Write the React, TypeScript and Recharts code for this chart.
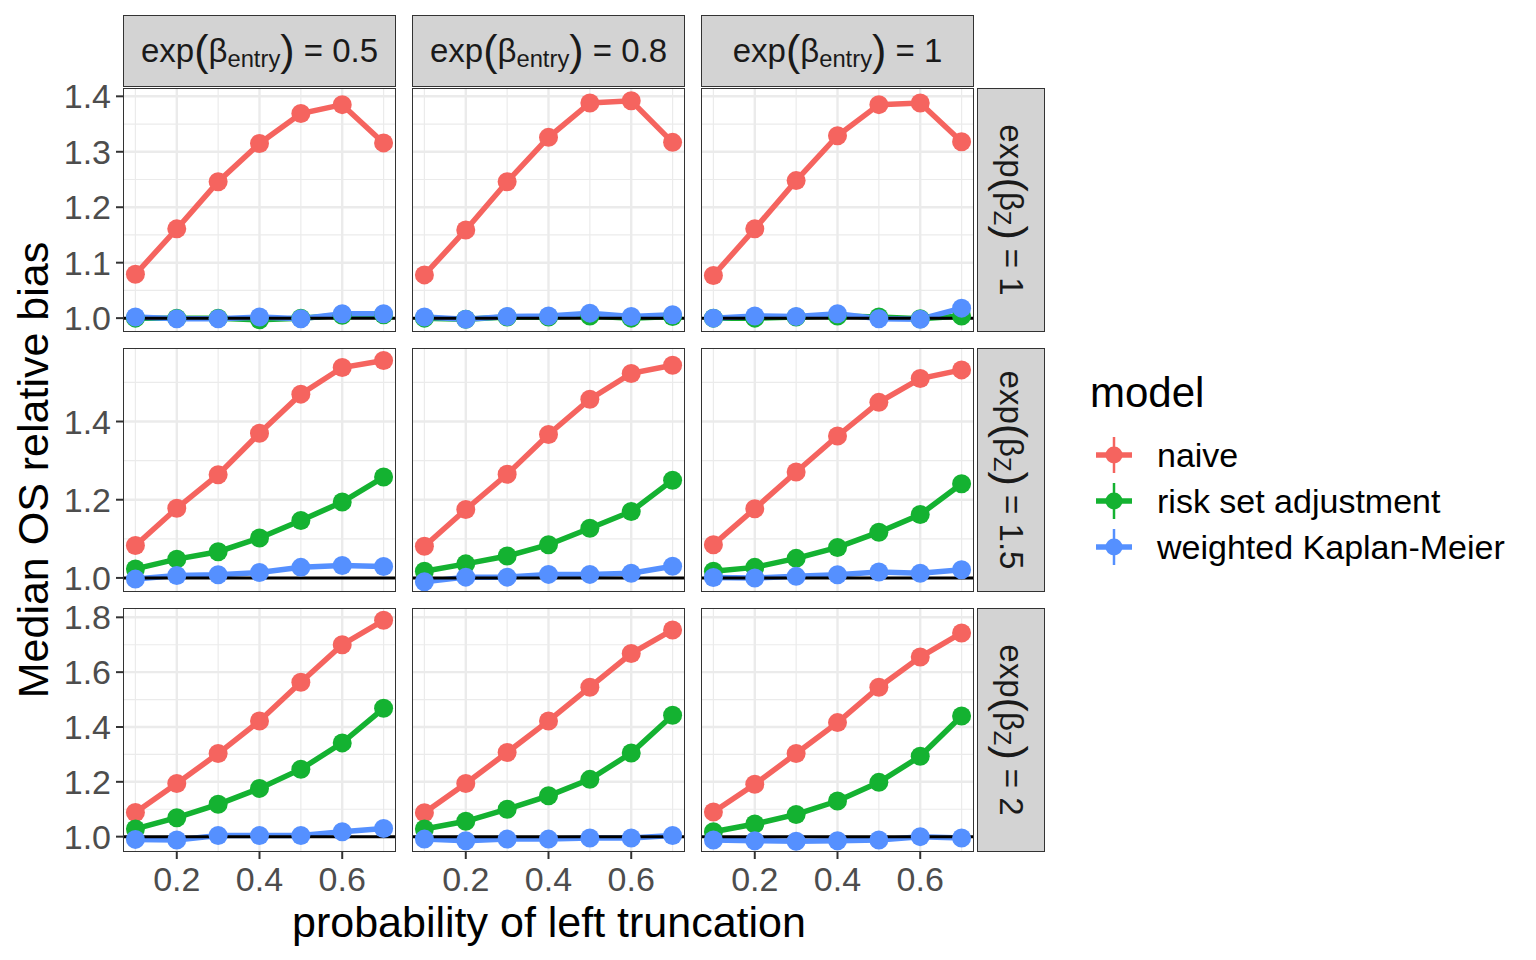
import React from "react";
import { LineChart, Line, XAxis, YAxis, ReferenceLine } from "recharts";

const probs = [0.1, 0.2, 0.3, 0.4, 0.5, 0.6, 0.7];
const entryLabels = ["0.5", "0.8", "1"];
const zLabels = ["1", "1.5", "2"];
const models = ["naive", "risk set adjustment", "weighted Kaplan-Meier"];
const modelColors = ["#F5645F", "#14B231", "#5590FF"];

// one array per column: exp(beta_entry) = 0.5, 0.8, 1
const naiveZ1 = [
  [1.079, 1.161, 1.246, 1.315, 1.369, 1.385, 1.316],
  [1.078, 1.159, 1.246, 1.326, 1.388, 1.392, 1.317],
  [1.077, 1.161, 1.248, 1.329, 1.385, 1.388, 1.318],
];
const riskZ1 = [
  [1.0, 1.0, 1.0, 0.997, 1.0, 1.005, 1.006],
  [1.0, 0.998, 1.002, 1.002, 1.004, 1.0, 1.003],
  [1.0, 1.0, 1.002, 1.004, 1.002, 0.999, 1.004],
];
const kmZ1 = [
  [1.002, 0.999, 0.999, 1.002, 0.999, 1.008, 1.008],
  [1.002, 0.998, 1.003, 1.004, 1.009, 1.003, 1.006],
  [1.0, 1.004, 1.003, 1.008, 0.999, 0.998, 1.018],
];

const naiveZ15 = [
  [1.083, 1.178, 1.264, 1.37, 1.47, 1.538, 1.556],
  [1.081, 1.175, 1.265, 1.367, 1.457, 1.523, 1.544],
  [1.085, 1.177, 1.271, 1.363, 1.449, 1.51, 1.532],
];
const riskZ15 = [
  [1.023, 1.048, 1.067, 1.102, 1.147, 1.194, 1.258],
  [1.017, 1.036, 1.056, 1.085, 1.127, 1.17, 1.25],
  [1.017, 1.027, 1.05, 1.078, 1.117, 1.162, 1.241],
];
const kmZ15 = [
  [0.997, 1.006, 1.008, 1.014, 1.027, 1.032, 1.029],
  [0.99, 1.002, 1.002, 1.009, 1.009, 1.012, 1.03],
  [1.001, 1.0, 1.004, 1.008, 1.015, 1.012, 1.021],
];

const naiveZ2 = [
  [1.088, 1.194, 1.303, 1.422, 1.563, 1.7, 1.789],
  [1.087, 1.194, 1.307, 1.422, 1.545, 1.668, 1.754],
  [1.09, 1.191, 1.303, 1.416, 1.545, 1.655, 1.743],
];
const riskZ2 = [
  [1.028, 1.069, 1.118, 1.176, 1.246, 1.342, 1.468],
  [1.028, 1.056, 1.1, 1.149, 1.209, 1.305, 1.443],
  [1.018, 1.046, 1.081, 1.13, 1.198, 1.293, 1.44],
];
const kmZ2 = [
  [0.99, 0.988, 1.004, 1.004, 1.004, 1.018, 1.03],
  [0.991, 0.985, 0.991, 0.991, 0.995, 0.995, 1.004],
  [0.988, 0.985, 0.983, 0.985, 0.988, 1.0, 0.995],
];

const naiveRows = [naiveZ1, naiveZ15, naiveZ2];
const riskRows = [riskZ1, riskZ15, riskZ2];
const kmRows = [kmZ1, kmZ15, kmZ2];

const xTicks = [0.2, 0.4, 0.6];
const xMinor = [0.1, 0.3, 0.5, 0.7];
const yTicks = [
  [1.0, 1.1, 1.2, 1.3, 1.4],
  [1.0, 1.2, 1.4],
  [1.0, 1.2, 1.4, 1.6, 1.8],
];
const yMinor = [
  [1.05, 1.15, 1.25, 1.35],
  [1.1, 1.3, 1.5],
  [1.1, 1.3, 1.5, 1.7],
];
const yDomains = [
  [0.975, 1.415],
  [0.964, 1.588],
  [0.944, 1.834],
];

const colX = [123, 412, 701];
const rowY = [88, 348, 608];
const panelW = 273;
const panelH = 244;
const keys = ["naive", "risk", "km"];
const pad = 20; // room above/below the panel so edge tick labels are not clipped

function Panel({ row, col }: { row: number; col: number }) {
  const isLeft = col === 0;
  const isBottom = row === 2;
  const yAxisW = isLeft ? 100 : 0;
  const xAxisH = isBottom ? 60 : 0;
  const padBottom = isBottom ? 0 : pad;
  const data = probs.map((p, i) => ({
    p,
    naive: naiveRows[row][col][i],
    risk: riskRows[row][col][i],
    km: kmRows[row][col][i],
  }));
  const tickStyle = { fill: "#4d4d4d", fontSize: 34 };

  return (
    <div style={{ position: "absolute", left: colX[col] - yAxisW, top: rowY[row] - pad }}>
      <LineChart
        width={panelW + yAxisW}
        height={panelH + xAxisH + pad + padBottom}
        data={data}
        margin={{ top: pad, right: 0, bottom: padBottom, left: 0 }}
      >
        <XAxis
          type="number"
          dataKey="p"
          domain={[0.07, 0.73]}
          ticks={xTicks}
          interval={0}
          allowDataOverflow
          hide={!isBottom}
          height={xAxisH}
          axisLine={false}
          tickLine={{ stroke: "#333333", strokeWidth: 2 }}
          tickSize={7}
          tickMargin={8}
          tick={tickStyle}
          tickFormatter={(v) => v.toFixed(1)}
        />
        <YAxis
          type="number"
          domain={yDomains[row]}
          ticks={yTicks[row]}
          interval={0}
          allowDataOverflow
          hide={!isLeft}
          width={yAxisW}
          axisLine={false}
          tickLine={{ stroke: "#333333", strokeWidth: 2 }}
          tickSize={7}
          tickMargin={5}
          tick={tickStyle}
          tickFormatter={(v) => v.toFixed(1)}
        />
        {xMinor.map((v) => (
          <ReferenceLine key={"xm" + v} x={v} stroke="#ebebeb" strokeWidth={1.2} />
        ))}
        {yMinor[row].map((v) => (
          <ReferenceLine key={"ym" + v} y={v} stroke="#ebebeb" strokeWidth={1.2} />
        ))}
        {xTicks.map((v) => (
          <ReferenceLine key={"xM" + v} x={v} stroke="#ebebeb" strokeWidth={2.4} />
        ))}
        {yTicks[row].map((v) => (
          <ReferenceLine key={"yM" + v} y={v} stroke="#ebebeb" strokeWidth={2.4} />
        ))}
        {keys.map((k, i) => (
          <Line
            key={"l" + k}
            dataKey={k}
            stroke={modelColors[i]}
            strokeWidth={5.5}
            dot={false}
            isAnimationActive={false}
          />
        ))}
        {keys.map((k, i) => (
          <Line
            key={"d" + k}
            dataKey={k}
            stroke="none"
            dot={{ r: 9.5, fill: modelColors[i], stroke: "none" }}
            isAnimationActive={false}
          />
        ))}
        <ReferenceLine y={1} stroke="#000000" strokeWidth={3} />
      </LineChart>
      <div
        style={{
          position: "absolute",
          left: yAxisW,
          top: pad,
          width: panelW,
          height: panelH,
          border: "1.5px solid #333333",
          boxSizing: "border-box",
          pointerEvents: "none",
        }}
      />
    </div>
  );
}

function Paren({ c }: { c: string }) {
  return <span style={{ fontSize: "1.3em", lineHeight: 1, position: "relative", top: "-0.02em" }}>{c}</span>;
}

function TopStrip({ col }: { col: number }) {
  return (
    <div
      style={{
        position: "absolute",
        left: colX[col],
        top: 15,
        width: panelW,
        height: 72,
        background: "#d3d3d3",
        border: "1.5px solid #333333",
        boxSizing: "border-box",
        display: "flex",
        alignItems: "center",
        justifyContent: "center",
        fontSize: 33,
        color: "#1a1a1a",
        whiteSpace: "nowrap",
      }}
    >
      <span>exp</span>
      <Paren c="(" />
      <span>β</span>
      <span style={{ fontSize: "0.72em", position: "relative", top: "0.35em" }}>entry</span>
      <Paren c=")" />
      <span>&nbsp;= {entryLabels[col]}</span>
    </div>
  );
}

function SideStrip({ row }: { row: number }) {
  return (
    <div
      style={{
        position: "absolute",
        left: 977,
        top: rowY[row],
        width: 68,
        height: panelH,
        background: "#d3d3d3",
        border: "1.5px solid #333333",
        boxSizing: "border-box",
        color: "#1a1a1a",
        fontSize: 33,
      }}
    >
      <div
        style={{
          position: "absolute",
          left: "50%",
          top: "50%",
          transform: "translate(-50%, -50%) rotate(90deg)",
          whiteSpace: "nowrap",
          display: "flex",
          alignItems: "center",
        }}
      >
        <span>exp</span>
        <Paren c="(" />
        <span>β</span>
        <span style={{ fontSize: "0.72em", position: "relative", top: "0.35em" }}>Z</span>
        <Paren c=")" />
        <span>&nbsp;= {zLabels[row]}</span>
      </div>
    </div>
  );
}

function LegendKey({ color }: { color: string }) {
  return (
    <svg width={40} height={40}>
      <line x1={2} y1={20} x2={38} y2={20} stroke={color} strokeWidth={5.5} />
      <line x1={20} y1={2} x2={20} y2={38} stroke={color} strokeWidth={2.5} />
      <circle cx={20} cy={20} r={8.5} fill={color} />
    </svg>
  );
}

export default function App() {
  const cells: React.ReactNode[] = [];
  for (let r = 0; r < 3; r++) {
    for (let c = 0; c < 3; c++) {
      cells.push(<Panel key={r + "-" + c} row={r} col={c} />);
    }
  }
  return (
    <div
      style={{
        position: "absolute",
        left: 0,
        top: 0,
        width: 1536,
        height: 960,
        background: "#ffffff",
        fontFamily: "'Liberation Sans', Arial, sans-serif",
        overflow: "hidden",
      }}
    >
      {cells}
      {[0, 1, 2].map((c) => (
        <TopStrip key={"ts" + c} col={c} />
      ))}
      {[0, 1, 2].map((r) => (
        <SideStrip key={"ss" + r} row={r} />
      ))}
      <div
        style={{
          position: "absolute",
          left: 33,
          top: 470,
          transform: "translate(-50%, -50%) rotate(-90deg)",
          whiteSpace: "nowrap",
          fontSize: 43,
          color: "#000",
        }}
      >
        Median OS relative bias
      </div>
      <div
        style={{
          position: "absolute",
          left: 549,
          top: 922,
          transform: "translate(-50%, -50%)",
          whiteSpace: "nowrap",
          fontSize: 43,
          color: "#000",
        }}
      >
        probability of left truncation
      </div>
      <div
        style={{
          position: "absolute",
          left: 1090,
          top: 393,
          transform: "translateY(-50%)",
          fontSize: 42,
          color: "#000",
        }}
      >
        model
      </div>
      {models.map((m, i) => (
        <div
          key={m}
          style={{
            position: "absolute",
            left: 1094,
            top: 455 + i * 46,
            transform: "translateY(-50%)",
            display: "flex",
            alignItems: "center",
            whiteSpace: "nowrap",
          }}
        >
          <LegendKey color={modelColors[i]} />
          <span style={{ marginLeft: 23, fontSize: 34, color: "#000" }}>{m}</span>
        </div>
      ))}
    </div>
  );
}
